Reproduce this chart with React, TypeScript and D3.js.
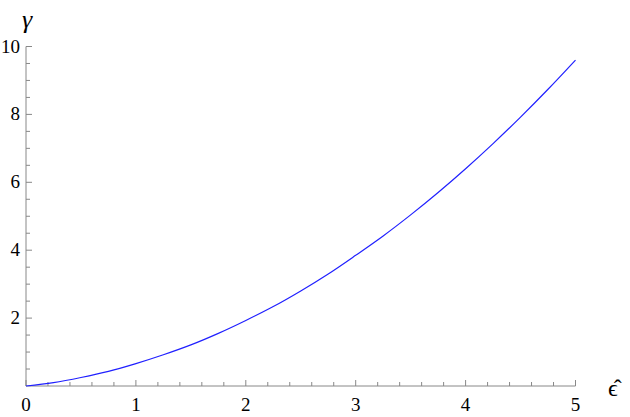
import { useEffect, useRef } from "react";
import * as d3 from "d3";

// values
const eps = [0, 0.25, 0.5, 0.75, 1, 1.25, 1.5, 1.75, 2, 2.25, 2.5, 2.75, 3, 3.25, 3.5, 3.75, 4, 4.25, 4.5, 4.75, 5];
const gamma = [0, 0.1, 0.25, 0.43, 0.66, 0.92, 1.21, 1.55, 1.93, 2.34, 2.8, 3.3, 3.85, 4.42, 5.04, 5.7, 6.4, 7.14, 7.92, 8.74, 9.6];
const xTicks = [0, 1, 2, 3, 4, 5];
const yTicks = [2, 4, 6, 8, 10];

export default function App() {
  const svgRef = useRef<SVGSVGElement>(null);

  useEffect(() => {
    const width = 630;
    const height = 417;
    const axisColor = "#888";
    const font = "'Times New Roman', 'Liberation Serif', 'DejaVu Serif', Times, serif";

    const x = d3.scaleLinear().domain([0, 5]).range([26, 575.5]);
    const y = d3.scaleLinear().domain([0, 10]).range([386, 46.5]);

    const svg = d3.select(svgRef.current)
      .attr("width", width)
      .attr("height", height)
      .attr("viewBox", [0, 0, width, height].join(" "))
      .style("font-family", font);
    svg.selectAll("*").remove();

    // x axis
    svg.append("line")
      .attr("x1", x(0)).attr("x2", x(5))
      .attr("y1", y(0)).attr("y2", y(0))
      .attr("stroke", axisColor).attr("stroke-width", 1);

    const xMinor = d3.range(0, 5.001, 0.2);
    svg.selectAll(".xtick")
      .data(xMinor)
      .enter()
      .append("line")
      .attr("x1", d => x(d)).attr("x2", d => x(d))
      .attr("y1", y(0))
      .attr("y2", d => y(0) - (Math.abs(d - Math.round(d)) < 1e-6 ? 6 : 4))
      .attr("stroke", axisColor).attr("stroke-width", 1);

    svg.selectAll(".xlabel")
      .data(xTicks)
      .enter()
      .append("text")
      .attr("x", d => x(d))
      .attr("y", 411)
      .attr("text-anchor", "middle")
      .style("font-family", font)
      .attr("font-size", 19)
      .text(d => d);

    // y axis
    svg.append("line")
      .attr("x1", x(0)).attr("x2", x(0))
      .attr("y1", y(0)).attr("y2", y(10))
      .attr("stroke", axisColor).attr("stroke-width", 1);

    const yMinor = d3.range(0.5, 10.001, 0.5);
    svg.selectAll(".ytick")
      .data(yMinor)
      .enter()
      .append("line")
      .attr("x1", x(0))
      .attr("x2", d => x(0) + (d % 2 === 0 ? 6 : 4))
      .attr("y1", d => y(d)).attr("y2", d => y(d))
      .attr("stroke", axisColor).attr("stroke-width", 1);

    svg.selectAll(".ylabel")
      .data(yTicks)
      .enter()
      .append("text")
      .attr("x", 20)
      .attr("y", d => y(d) + 6)
      .attr("text-anchor", "end")
      .style("font-family", font)
      .attr("font-size", 19)
      .text(d => d);

    // axis labels
    svg.append("text")
      .attr("x", 27)
      .attr("y", 28)
      .attr("text-anchor", "middle")
      .style("font-family", font)
      .attr("font-style", "italic")
      .attr("font-size", 26)
      .text("γ");

    svg.append("text")
      .attr("x", 608)
      .attr("y", 396)
      .style("font-family", font)
      .attr("font-size", 24)
      .text("ϵ\u0302");

    // curve
    const line = d3.line<number>()
      .x((_, i) => x(eps[i]))
      .y(d => y(d))
      .curve(d3.curveMonotoneX);

    svg.append("path")
      .datum(gamma)
      .attr("d", line)
      .attr("fill", "none")
      .attr("stroke", "#2020ff")
      .attr("stroke-width", 1.2);
  }, []);

  return (
    <svg ref={svgRef} style={{ position: "absolute", left: 0, top: 0 }}></svg>
  );
}
